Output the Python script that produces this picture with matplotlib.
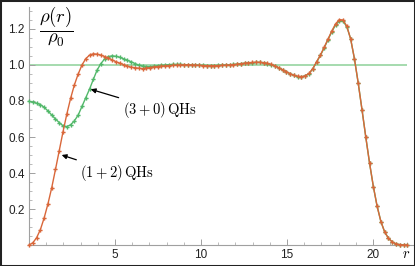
import numpy as np
import matplotlib
matplotlib.use('Agg')
import matplotlib.pyplot as plt
from matplotlib.ticker import MultipleLocator, FixedLocator
from matplotlib.patches import Rectangle

# radial grid of the samples (0 .. 22, 101 points)
r = np.linspace(0, 22, 101)

rho_12 = [
    0.000, 0.012, 0.040, 0.085, 0.150, 0.228, 0.318, 0.420, 0.525, 0.630,
    0.728, 0.815, 0.890, 0.950, 1.000, 1.035, 1.055, 1.062, 1.060, 1.055,
    1.047, 1.038, 1.028, 1.018, 1.010, 1.002, 0.993, 0.988, 0.985, 0.982,
    0.980, 0.982, 0.986, 0.989, 0.991, 0.993, 0.995, 0.997, 0.998, 0.999,
    1.000, 1.001, 1.001, 1.000, 0.999, 0.998, 0.997, 0.996, 0.996, 0.996,
    0.997, 0.998, 0.999, 1.000, 1.002, 1.004, 1.007, 1.010, 1.012, 1.014,
    1.015, 1.015, 1.013, 1.009, 1.003, 0.995, 0.985, 0.974, 0.963, 0.952,
    0.943, 0.937, 0.935, 0.940, 0.953, 0.980, 1.018, 1.055, 1.098, 1.143,
    1.188, 1.228, 1.252, 1.250, 1.215, 1.145, 1.035, 0.900, 0.752, 0.600,
    0.455, 0.325, 0.215, 0.130, 0.072, 0.037, 0.017, 0.006, 0.002, 0.000,
    0.000,
]

rho_30 = [
    0.798, 0.793, 0.788, 0.780, 0.765, 0.745, 0.722, 0.700, 0.680, 0.662,
    0.658, 0.668, 0.690, 0.722, 0.770, 0.818, 0.866, 0.920, 0.972, 1.008,
    1.034, 1.047, 1.051, 1.048, 1.043, 1.034, 1.026, 1.018, 1.008, 0.999,
    0.994, 0.991, 0.991, 0.993, 0.996, 0.998, 1.000, 1.002, 1.003, 1.003,
    1.003, 1.002, 1.001, 1.000, 0.999, 0.998, 0.998, 0.997, 0.997, 0.997,
    0.998, 0.999, 1.000, 1.001, 1.003, 1.005, 1.008, 1.010, 1.012, 1.013,
    1.014, 1.014, 1.012, 1.008, 1.002, 0.994, 0.984, 0.973, 0.962, 0.951,
    0.942, 0.936, 0.934, 0.939, 0.952, 0.979, 1.016, 1.053, 1.095, 1.140,
    1.184, 1.222, 1.244, 1.244, 1.212, 1.145, 1.035, 0.900, 0.752, 0.600,
    0.455, 0.325, 0.215, 0.130, 0.072, 0.037, 0.017, 0.006, 0.002, 0.000,
    0.000,
]

x_major = [5, 10, 15, 20]
y_major = [0.2, 0.4, 0.6, 0.8, 1.0, 1.2]

orange = '#D9673A'
green = '#52B86A'
ref_green = '#9ED8A8'
axis_gray = '#A0A0A0'

plt.rcParams['mathtext.fontset'] = 'cm'

fig = plt.figure(figsize=(4.15, 2.66), dpi=100)
ax = fig.add_axes([29 / 415, 21 / 266, 22.3 * 17.2 / 415, 1.32 * 180 / 266])
ax.set_xlim(0, 22.3)
ax.set_ylim(0, 1.32)

ax.hlines(1.0, r[0], r[-1], color=ref_green, linewidth=1.3, zorder=1)
ax.plot(r, rho_30, color=green, linewidth=1.0, marker='P', markersize=3.0,
        markeredgewidth=0, zorder=3, clip_on=False)
ax.plot(r, rho_12, color=orange, linewidth=1.0, marker='P', markersize=3.0,
        markeredgewidth=0, zorder=4, clip_on=False)

for side in ('top', 'right'):
    ax.spines[side].set_visible(False)
for side in ('left', 'bottom'):
    ax.spines[side].set_color(axis_gray)
    ax.spines[side].set_linewidth(0.8)

ax.xaxis.set_major_locator(FixedLocator(x_major))
ax.xaxis.set_minor_locator(MultipleLocator(1))
ax.yaxis.set_major_locator(FixedLocator(y_major))
ax.yaxis.set_minor_locator(MultipleLocator(0.05))
ax.set_xticklabels([str(v) for v in x_major])
ax.set_yticklabels(['%.1f' % v for v in y_major])
ax.tick_params(which='major', direction='in', length=4, width=0.7, color=axis_gray,
               labelsize=8.5, labelcolor='#222222', pad=3)
ax.tick_params(which='minor', direction='in', length=2, width=0.5, color=axis_gray)
for lab in ax.get_xticklabels() + ax.get_yticklabels():
    lab.set_family('Liberation Sans')

ax.text(21.9, -0.05, r'$r$', fontsize=10.5, ha='center', va='center')
ax.text(0.6, 1.215, r'$\dfrac{\rho(r)}{\rho_0}$', fontsize=13.5,
        ha='left', va='center')

ax.annotate(r'$(3+0)\,\mathrm{QHs}$', xy=(3.59, 0.865), xytext=(5.45, 0.75),
            fontsize=10.5, ha='left', va='center',
            arrowprops=dict(arrowstyle='-|>', color='black', lw=0.9,
                            shrinkA=1, shrinkB=0, mutation_scale=7))
ax.annotate(r'$(1+2)\,\mathrm{QHs}$', xy=(1.9, 0.5), xytext=(2.95, 0.40),
            fontsize=10.5, ha='left', va='center',
            arrowprops=dict(arrowstyle='-|>', color='black', lw=0.9,
                            shrinkA=1, shrinkB=0, mutation_scale=7))

fig.patches.append(Rectangle((0, 0), 1, 1, transform=fig.transFigure, fill=False,
                             edgecolor='#222222', linewidth=2.2))

fig.savefig('out.png', dpi=100)
